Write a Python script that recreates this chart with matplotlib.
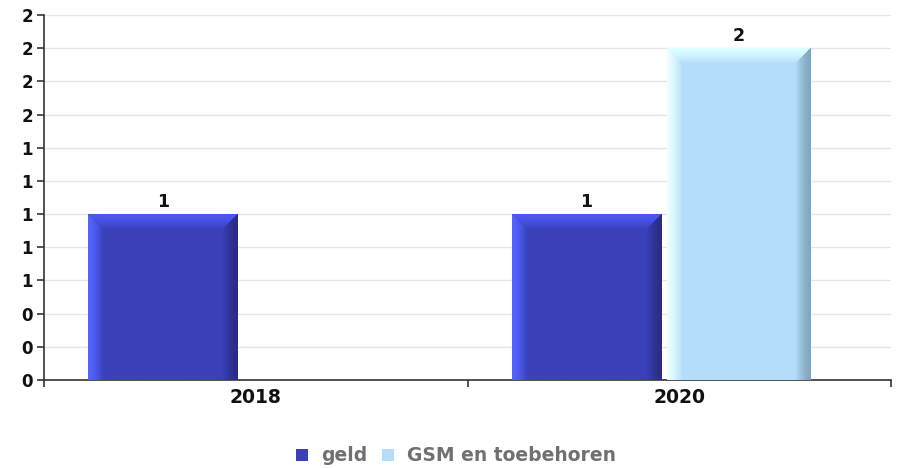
import numpy as np
import matplotlib
matplotlib.use("Agg")
import matplotlib.pyplot as plt
from matplotlib.ticker import FuncFormatter, MultipleLocator
from matplotlib.patches import Rectangle

# data
years = ['2018', '2020']
series_names = ['geld', 'GSM en toebehoren']
geld = [1, 1]
gsm = [0, 2]

# colours: main, left edge, top edge, right edge
styles = {
    'geld': ('#3a40b8', '#5563ff', '#4c58f0', '#2a2d84'),
    'GSM en toebehoren': ('#b4ddfb', '#eaffff', '#dcffff', '#84a6bd'),
}

fig = plt.figure(figsize=(9.01, 4.68), dpi=100)
ax = fig.add_axes([44 / 901, 88 / 468, 847 / 901, 365 / 468])

ax.set_xlim(0, 2)
ax.set_ylim(0, 2.2)

# px per data unit, used for the bevel size
px_x = 847 / 2
px_y = 365 / 2.2
bevel = 15


def hex2rgb(c):
    return np.array(matplotlib.colors.to_rgb(c))


def bevel_bar(x0, width, value, name):
    if value <= 0:
        return
    main, left, top, right = [hex2rgb(c) for c in styles[name]]
    W = max(int(round(width * px_x)), 2)
    H = max(int(round(value * px_y)), 2)
    img = np.empty((H, W, 3))
    jj, ii = np.meshgrid(np.arange(W), np.arange(H))
    dl = jj
    dr = W - 1 - jj
    dt = ii
    m = np.minimum(np.minimum(dl, dr), dt)
    img[:] = main
    for d, edge in ((dl, left), (dt, top), (dr, right)):
        mask = (d == m) & (m < bevel)
        t = (d[mask] / bevel)[:, None] ** 1.5
        img[mask] = edge * (1 - t) + main * t
    ax.imshow(img, extent=(x0, x0 + width, 0, value), aspect='auto',
              origin='upper', zorder=3, interpolation='bilinear')
    ax.annotate(f"{value:g}", (x0 + width / 2, value), xytext=(0, 2),
                textcoords='offset points', ha='center', va='bottom',
                fontsize=12.5, fontweight='bold', color='#111111', zorder=5)


bar_w = 0.352
offsets = [0.105, 0.47]
for k, year in enumerate(years):
    bevel_bar(k + offsets[0], bar_w, geld[k], 'geld')
    bevel_bar(k + offsets[1], bar_w - 0.012, gsm[k], 'GSM en toebehoren')

ax.set_xlim(0, 2)
ax.set_ylim(0, 2.2)

# axes styling
ax.yaxis.set_major_locator(MultipleLocator(0.2))
ax.yaxis.set_major_formatter(FuncFormatter(lambda v, p: f"{v:.0f}"))
ax.grid(axis='y', color='#e6e6e6', lw=1, zorder=0)
ax.set_axisbelow(True)

ax.set_xticks([0.5, 1.5])
ax.set_xticklabels(years)
ax.set_xticks([0, 1, 2], minor=True)
ax.tick_params(axis='x', which='major', length=0, pad=6)
ax.tick_params(axis='x', which='minor', length=5, width=1.2, color='#333333')
ax.tick_params(axis='y', length=5, width=1.2, color='#333333', pad=3)
for lab in ax.get_xticklabels():
    lab.set_fontweight('bold')
    lab.set_fontsize(13.5)
    lab.set_color('#111111')
for lab in ax.get_yticklabels():
    lab.set_fontweight('bold')
    lab.set_fontsize(12)
    lab.set_color('#111111')

for s in ['top', 'right']:
    ax.spines[s].set_visible(False)
for s in ['left', 'bottom']:
    ax.spines[s].set_color('#333333')
    ax.spines[s].set_linewidth(1.2)

# legend along the bottom, squares + grey bold labels
leg_items = [(296, 321, series_names[0]), (382, 407, series_names[1])]
for sq_x, tx_x, name in leg_items:
    fig.patches.append(Rectangle((sq_x / 901, 1 - 461 / 468), 12 / 901, 12 / 468,
                                 transform=fig.transFigure, facecolor=styles[name][0],
                                 edgecolor='none'))
    fig.text(tx_x / 901, 1 - 461 / 468, name, ha='left', va='baseline',
             fontsize=13.5, fontweight='bold', color='#707070')

fig.savefig('out.png', dpi=100)
